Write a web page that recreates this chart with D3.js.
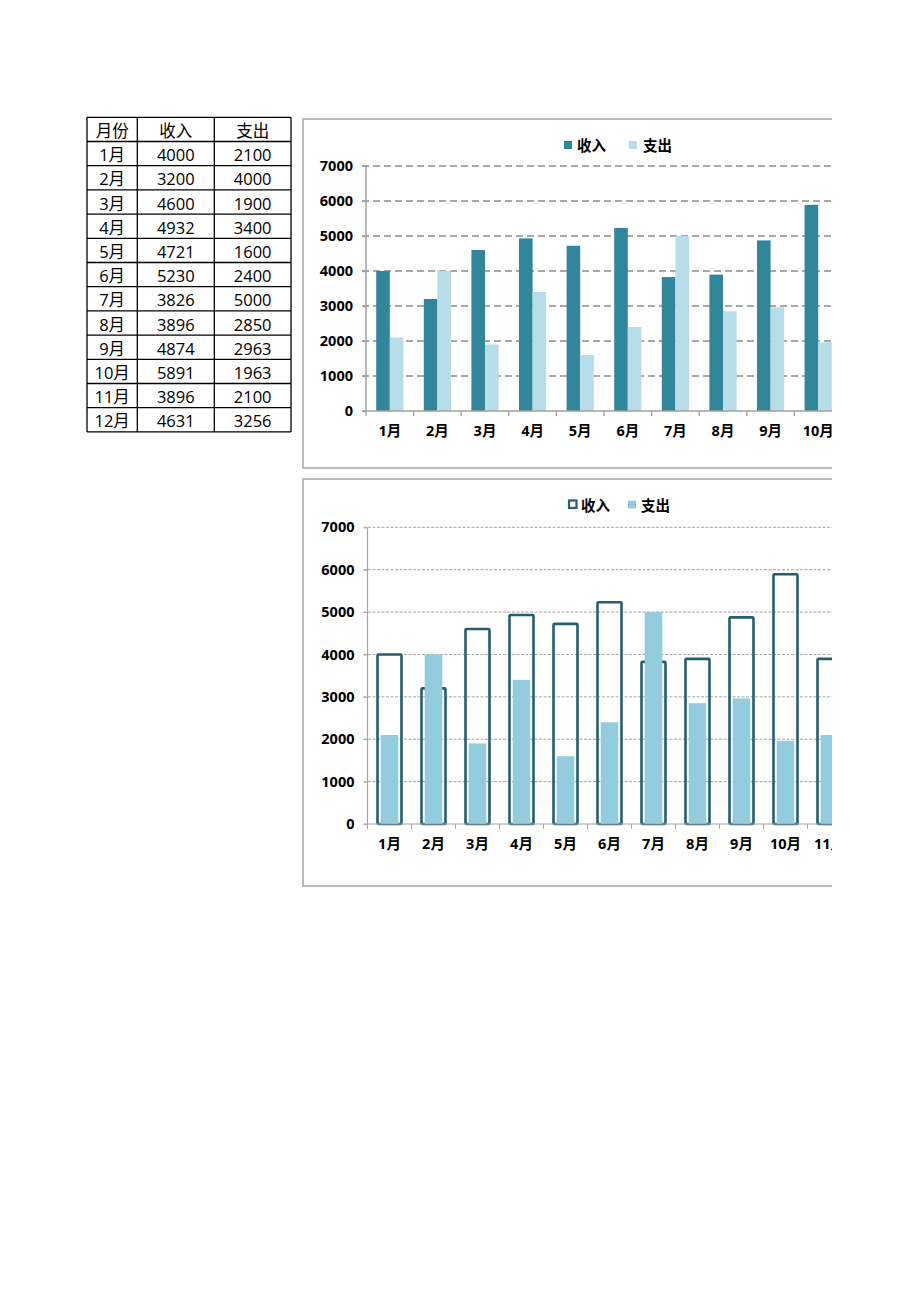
<!DOCTYPE html>
<html><head><meta charset="utf-8">
<script src="https://cdn.jsdelivr.net/npm/d3@7/dist/d3.min.js"></script>
<style>
html,body{margin:0;padding:0;background:#fff;}
svg{display:block;}
</style></head>
<body>
<svg id="c" width="920" height="1301"></svg>
<script>
const months = ["1月","2月","3月","4月","5月","6月","7月","8月","9月","10月","11月","12月"];
const income = [4000,3200,4600,4932,4721,5230,3826,3896,4874,5891,3896,4631];
const expense = [2100,4000,1900,3400,1600,2400,5000,2850,2963,1963,2100,3256];
const seriesNames = ["收入","支出"];
const tableHeader = ["月份","收入","支出"];
const yTicks = [0,1000,2000,3000,4000,5000,6000,7000];

const PAGE_W = 832;
const svg = d3.select("#c");
svg.append("defs").append("clipPath").attr("id","page")
  .append("rect").attr("x",0).attr("y",0).attr("width",PAGE_W).attr("height",1301);
const root = svg.append("g").attr("clip-path","url(#page)");

const FONT = "'Open Sans','Noto Sans CJK SC',sans-serif";
const FS = 14.5;

// ---------- Table ----------
const tx = [87, 137.3, 214.3, 291];
const ty0 = 117.3, rowH = 24.2;
const rows = [tableHeader].concat(months.map((m,i)=>[m, String(income[i]), String(expense[i])]));
const tg = root.append("g");
rows.forEach((r,ri)=>{
  r.forEach((v,ci)=>{
    tg.append("text")
      .attr("x",(tx[ci]+tx[ci+1])/2)
      .attr("y",ty0+rowH*ri+rowH/2+1)
      .attr("text-anchor","middle").attr("dominant-baseline","central")
      .attr("font-family",FONT).attr("font-size",16.5).attr("fill","#000")
      .text(v);
  });
});
for(let i=0;i<=rows.length;i++){
  tg.append("line").attr("x1",tx[0]).attr("x2",tx[3])
    .attr("y1",ty0+rowH*i).attr("y2",ty0+rowH*i)
    .attr("stroke","#000").attr("stroke-width",1.3);
}
tx.forEach(x=>{
  tg.append("line").attr("x1",x).attr("x2",x)
    .attr("y1",ty0).attr("y2",ty0+rowH*rows.length)
    .attr("stroke","#000").attr("stroke-width",1.3);
});

function dropOffPage(xg, x){
  // the printed page is cut at PAGE_W: labels lying wholly past it are not drawn
  xg.selectAll(".tick").filter(d => x(d) + x.bandwidth()/2 - 14 > PAGE_W).remove();
}

// ---------- Chart 1 ----------
(function(){
  const g = root.append("g");
  g.append("rect").attr("x",303).attr("y",119).attr("width",700).attr("height",349)
    .attr("fill","#fff").attr("stroke","#a6a6a6").attr("stroke-width",1.5);
  const x0 = 366, band = 47.6;
  const x = d3.scaleBand().domain(months).range([x0, x0+band*months.length]).padding(0);
  const xs = d3.scaleBand().domain(seriesNames).range([0, x.bandwidth()]).paddingInner(0).paddingOuter(0.75);
  const y = d3.scaleLinear().domain([0,7000]).range([411,166]);

  g.selectAll(".grid").data(yTicks.filter(d=>d>0)).join("line")
    .attr("x1",x0-4).attr("x2",x.range()[1])
    .attr("y1",d=>y(d)).attr("y2",d=>y(d))
    .attr("stroke","#8c8c8c").attr("stroke-width",1.3).attr("stroke-dasharray","7,4");

  g.selectAll(".inc").data(months).join("rect")
    .attr("x",d=>x(d)+xs("收入")).attr("width",xs.bandwidth())
    .attr("y",(d,i)=>y(income[i])).attr("height",(d,i)=>y(0)-y(income[i]))
    .attr("fill","#31869b");
  g.selectAll(".exp").data(months).join("rect")
    .attr("x",d=>x(d)+xs("支出")).attr("width",xs.bandwidth())
    .attr("y",(d,i)=>y(expense[i])).attr("height",(d,i)=>y(0)-y(expense[i]))
    .attr("fill","#b7dee8");

  const ya = d3.axisLeft(y).tickValues(yTicks).tickFormat(d3.format("d")).tickSize(4).tickPadding(9);
  const yg = g.append("g").attr("transform",`translate(${x0},0)`).call(ya);
  yg.select(".domain").attr("stroke","#a0a0a0").attr("stroke-width",1.5).attr("d",`M0,${y(7000)}V${y(0)}`);
  yg.selectAll(".tick line").attr("stroke","#a0a0a0").attr("stroke-width",1.3);
  yg.selectAll("text").attr("font-family",FONT).attr("font-weight","bold").attr("font-size",FS).attr("fill","#000");

  const xa = d3.axisBottom(x).tickSize(0).tickPadding(15);
  const xg = g.append("g").attr("transform",`translate(0,${y(0)})`).call(xa);
  xg.select(".domain").attr("stroke","#a0a0a0").attr("stroke-width",1.5).attr("d",`M${x0-4},0H${x.range()[1]}`);
  xg.selectAll("text").attr("font-family",FONT).attr("font-weight","bold").attr("font-size",FS).attr("fill","#000");
  dropOffPage(xg, x);
  g.selectAll(".xt").data(d3.range(months.length+1)).join("line")
    .attr("x1",i=>x0+i*band).attr("x2",i=>x0+i*band)
    .attr("y1",y(0)).attr("y2",y(0)+5)
    .attr("stroke","#a0a0a0").attr("stroke-width",1.3);

  const lg = g.append("g");
  lg.append("rect").attr("x",564).attr("y",141).attr("width",8).attr("height",8).attr("fill","#31869b");
  lg.append("text").attr("x",577).attr("y",145).attr("dominant-baseline","central")
    .attr("font-family",FONT).attr("font-weight","bold").attr("font-size",FS).text(seriesNames[0]);
  lg.append("rect").attr("x",629).attr("y",141).attr("width",8).attr("height",8).attr("fill","#b7dee8");
  lg.append("text").attr("x",643).attr("y",145).attr("dominant-baseline","central")
    .attr("font-family",FONT).attr("font-weight","bold").attr("font-size",FS).text(seriesNames[1]);
})();

// ---------- Chart 2 ----------
(function(){
  const g = root.append("g");
  g.append("rect").attr("x",303).attr("y",479).attr("width",700).attr("height",407)
    .attr("fill","#fff").attr("stroke","#a6a6a6").attr("stroke-width",1.5);
  const x0 = 367.5, band = 44;
  const x = d3.scaleBand().domain(months).range([x0, x0+band*months.length]).padding(0);
  const y = d3.scaleLinear().domain([0,7000]).range([824,527.3]);
  const incW = band*0.545, expW = band*0.40;

  g.selectAll(".grid").data(yTicks.filter(d=>d>0)).join("line")
    .attr("x1",x0-4).attr("x2",x.range()[1])
    .attr("y1",d=>y(d)).attr("y2",d=>y(d))
    .attr("stroke","#9a9a9a").attr("stroke-width",0.9).attr("stroke-dasharray","3,1.5");

  g.selectAll(".inc").data(months).join("rect")
    .attr("x",d=>x(d)+band/2-incW/2).attr("width",incW)
    .attr("y",(d,i)=>y(income[i])).attr("height",(d,i)=>y(0)-y(income[i]))
    .attr("fill","none").attr("stroke","#255e6d").attr("stroke-width",2.6).attr("rx",1);
  g.selectAll(".exp").data(months).join("rect")
    .attr("x",d=>x(d)+band/2-expW/2).attr("width",expW)
    .attr("y",(d,i)=>y(expense[i])).attr("height",(d,i)=>y(0)-y(expense[i]))
    .attr("fill","#93cddd");

  const ya = d3.axisLeft(y).tickValues(yTicks).tickFormat(d3.format("d")).tickSize(4).tickPadding(9);
  const yg = g.append("g").attr("transform",`translate(${x0},0)`).call(ya);
  yg.select(".domain").attr("stroke","#a6a6a6").attr("stroke-width",1.2).attr("d",`M0,${y(7000)}V${y(0)}`);
  yg.selectAll(".tick line").attr("stroke","#a6a6a6").attr("stroke-width",1);
  yg.selectAll("text").attr("font-family",FONT).attr("font-weight","bold").attr("font-size",FS).attr("fill","#000");

  const xa = d3.axisBottom(x).tickSize(0).tickPadding(15);
  const xg = g.append("g").attr("transform",`translate(0,${y(0)})`).call(xa);
  xg.select(".domain").attr("stroke","#a6a6a6").attr("stroke-width",1.2).attr("d",`M${x0-4},0H${x.range()[1]}`);
  xg.selectAll("text").attr("font-family",FONT).attr("font-weight","bold").attr("font-size",FS).attr("fill","#000");
  dropOffPage(xg, x);
  g.selectAll(".xt").data(d3.range(months.length+1)).join("line")
    .attr("x1",i=>x0+i*band).attr("x2",i=>x0+i*band)
    .attr("y1",y(0)).attr("y2",y(0)+5)
    .attr("stroke","#a6a6a6").attr("stroke-width",1);

  const lg = g.append("g");
  lg.append("rect").attr("x",569).attr("y",500.5).attr("width",7.5).attr("height",7.5)
    .attr("fill","none").attr("stroke","#255e6d").attr("stroke-width",2.2);
  lg.append("text").attr("x",581).attr("y",505).attr("dominant-baseline","central")
    .attr("font-family",FONT).attr("font-weight","bold").attr("font-size",FS).text(seriesNames[0]);
  lg.append("rect").attr("x",628).attr("y",500.5).attr("width",8).attr("height",8).attr("fill","#93cddd");
  lg.append("text").attr("x",641).attr("y",505).attr("dominant-baseline","central")
    .attr("font-family",FONT).attr("font-weight","bold").attr("font-size",FS).text(seriesNames[1]);
})();
</script>
</body></html>
